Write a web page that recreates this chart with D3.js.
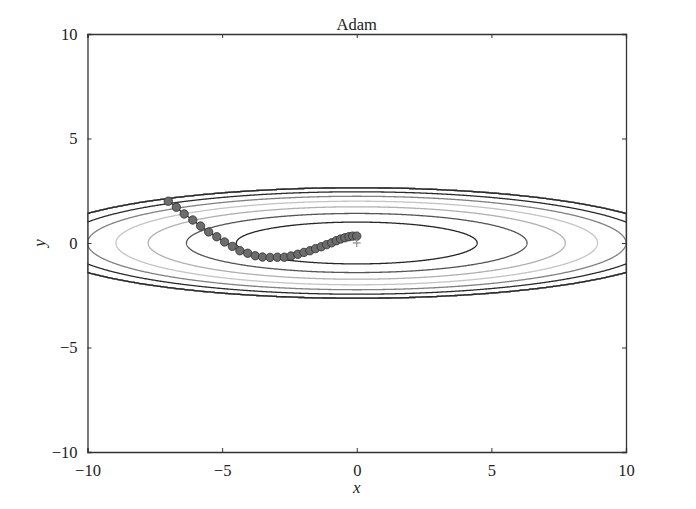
<!DOCTYPE html>
<html>
<head>
<meta charset="utf-8">
<script src="https://cdn.jsdelivr.net/npm/d3@7"></script>
<style>
  body { margin: 0; background: #fff; }
  text { font-family: "Liberation Serif", "DejaVu Serif", serif; fill: #222; }
</style>
</head>
<body>
<div id="chart"></div>
<script>
// ticks
const xTicks = [-10, -5, 0, 5, 10];
const yTicks = [-10, -5, 0, 5, 10];

// contour levels of f(x, y) = x^2/20 + y^2 (values above maskLevel set to 0)
const levels = [1, 2, 3, 4, 5, 6];
const levelColors = ["#262626", "#555555", "#b0b0b0", "#c4c4c4", "#808080", "#2a2a2a"];
const maskLevel = 7;

// Adam path
const pathX = [-7.00, -6.70, -6.41, -6.09, -5.80, -5.50, -5.20, -4.91, -4.62, -4.34,
               -4.05, -3.77, -3.50, -3.22, -2.95, -2.69, -2.44, -2.19, -1.96, -1.74,
               -1.53, -1.32, -1.12, -0.93, -0.76, -0.60, -0.44, -0.29, -0.15, 0.00];
const pathY = [2.00, 1.71, 1.39, 1.10, 0.81, 0.53, 0.30, 0.05, -0.16, -0.37,
               -0.49, -0.61, -0.67, -0.69, -0.68, -0.68, -0.62, -0.54, -0.45, -0.37,
               -0.27, -0.18, -0.08, 0.01, 0.11, 0.19, 0.25, 0.30, 0.33, 0.33];

function f(x, y) { return x * x / 20 + y * y; }

const width = 696, height = 509;
const margin = { top: 34, right: 70, bottom: 57, left: 87.5 };

const svg = d3.select("#chart").append("svg")
    .attr("width", width)
    .attr("height", height);

const x = d3.scaleLinear().domain([-10, 10]).range([margin.left, width - margin.right]);
const y = d3.scaleLinear().domain([-10, 10]).range([height - margin.bottom, margin.top]);

svg.append("clipPath").attr("id", "plot")
  .append("rect")
    .attr("x", margin.left).attr("y", margin.top)
    .attr("width", width - margin.left - margin.right)
    .attr("height", height - margin.top - margin.bottom);

// grid for contours
const dx = 0.04, dy = 0.01;
const gx0 = -10, gy0 = -3.2;
const nx = Math.round(20 / dx) + 1, ny = Math.round(6.4 / dy) + 1;
const values = new Float64Array(nx * ny);
for (let j = 0; j < ny; j++) {
    for (let i = 0; i < nx; i++) {
        let z = f(gx0 + i * dx, gy0 + j * dy);
        values[j * nx + i] = z > maskLevel ? 0 : z;
    }
}

const contours = d3.contours().size([nx, ny]).thresholds(levels)(values);
const proj = d3.geoTransform({
    point: function(px, py) {
        this.stream.point(x(gx0 + (px - 0.5) * dx), y(gy0 + (py - 0.5) * dy));
    }
});
const geo = d3.geoPath(proj);

svg.append("g")
    .attr("clip-path", "url(#plot)")
  .selectAll("path")
  .data(contours)
  .join("path")
    .attr("d", geo)
    .attr("fill", "none")
    .attr("stroke", (d, i) => levelColors[i])
    .attr("stroke-width", 1.3);

// Adam path
const pts = pathX.map((v, i) => [v, pathY[i]]);
svg.append("path")
    .datum(pts)
    .attr("fill", "none")
    .attr("stroke", "#3a3a3a")
    .attr("stroke-width", 1.5)
    .attr("d", d3.line().x(d => x(d[0])).y(d => y(d[1])));

svg.append("g")
  .selectAll("circle")
  .data(pts)
  .join("circle")
    .attr("cx", d => x(d[0]))
    .attr("cy", d => y(d[1]))
    .attr("r", 4.2)
    .attr("fill", "#6c6c6c")
    .attr("stroke", "#2e2e2e")
    .attr("stroke-width", 0.8);

// minimum marker
const plus = svg.append("g").attr("stroke", "#8a8a8a").attr("stroke-width", 1.2);
plus.append("line").attr("x1", x(0) - 4).attr("x2", x(0) + 4).attr("y1", y(0)).attr("y2", y(0));
plus.append("line").attr("x1", x(0)).attr("x2", x(0)).attr("y1", y(0) - 4).attr("y2", y(0) + 4);

// frame and inward ticks
const fmt = d => d < 0 ? "\u2212" + Math.abs(d) : String(d);
const tickLen = 4;

svg.append("g")
    .attr("transform", `translate(0,${height - margin.bottom})`)
    .call(d3.axisBottom(x).tickValues(xTicks).tickSize(-tickLen).tickPadding(12).tickFormat(fmt));
svg.append("g")
    .attr("transform", `translate(0,${margin.top})`)
    .call(d3.axisTop(x).tickValues(xTicks).tickSize(-tickLen).tickFormat(""));
svg.append("g")
    .attr("transform", `translate(${margin.left},0)`)
    .call(d3.axisLeft(y).tickValues(yTicks).tickSize(-tickLen).tickPadding(10).tickFormat(fmt));
svg.append("g")
    .attr("transform", `translate(${width - margin.right},0)`)
    .call(d3.axisRight(y).tickValues(yTicks).tickSize(-tickLen).tickFormat(""));

svg.selectAll(".domain").attr("stroke", "#333").attr("stroke-width", 1.3);
svg.selectAll(".tick line").attr("stroke", "#333");
svg.selectAll(".tick text")
    .style("font-family", "'Liberation Serif', 'DejaVu Serif', serif")
    .style("font-size", "16.5px")
    .attr("fill", "#222");

svg.append("text")
    .attr("x", x(0)).attr("y", margin.top - 4)
    .attr("text-anchor", "middle")
    .style("font-size", "16.5px")
    .text("Adam");

svg.append("text")
    .attr("x", x(0)).attr("y", height - 16)
    .attr("text-anchor", "middle")
    .style("font-size", "17px")
    .style("font-style", "italic")
    .text("x");

svg.append("text")
    .attr("transform", `translate(45,${y(0)}) rotate(-90)`)
    .attr("text-anchor", "middle")
    .style("font-size", "17px")
    .style("font-style", "italic")
    .text("y");
</script>
</body>
</html>
